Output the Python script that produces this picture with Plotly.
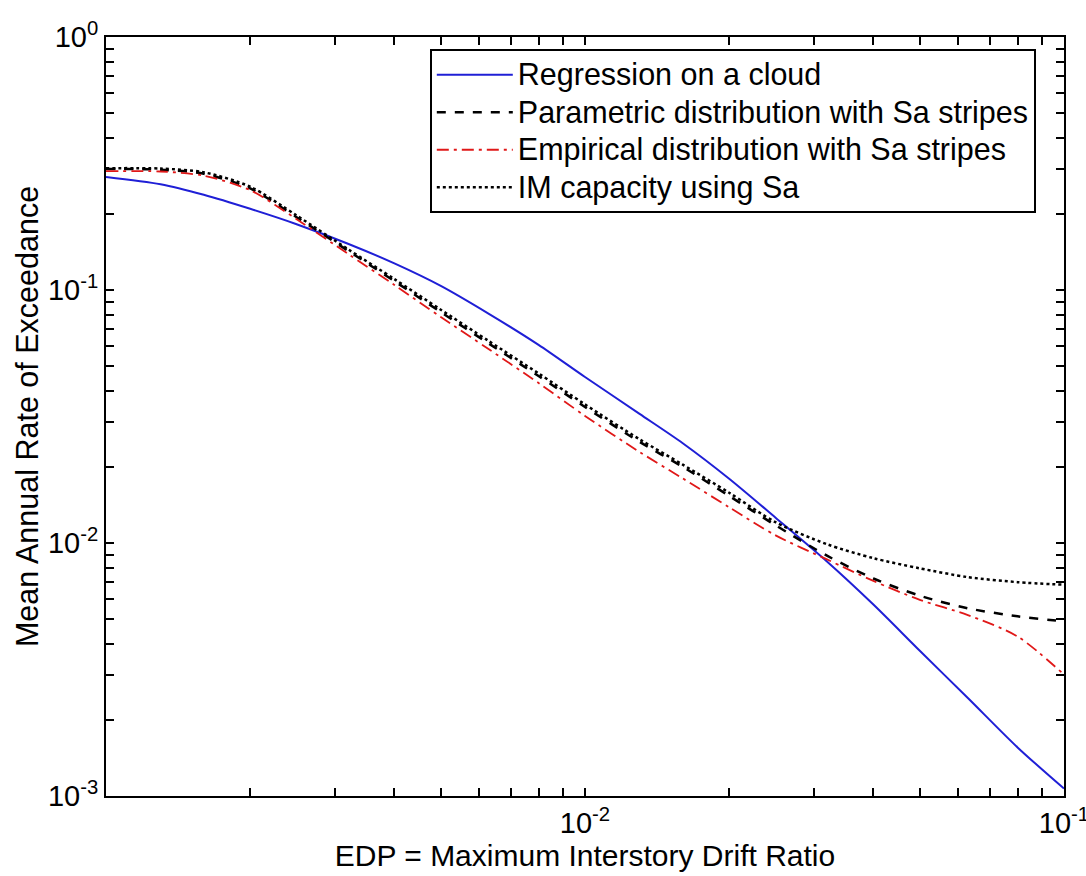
import plotly.graph_objects as go

# EDP values (maximum interstory drift ratio)
edp = [0.0010, 0.0013, 0.0016, 0.0020, 0.0025, 0.0032, 0.0040, 0.0050, 0.0063, 0.0080,
       0.010, 0.013, 0.016, 0.020, 0.025, 0.032, 0.040, 0.050, 0.063, 0.080, 0.100]

regression_cloud = [0.280, 0.262, 0.238, 0.2094, 0.182, 0.1524, 0.1274, 0.1038, 0.0805, 0.0607,
                    0.0453, 0.0324, 0.0248, 0.01795, 0.01259, 0.00845, 0.00571, 0.00375, 0.00244,
                    0.001556, 0.00107]

parametric_sa = [0.301, 0.299, 0.288, 0.252, 0.194, 0.143, 0.1084, 0.0818, 0.0614, 0.0457,
                 0.0345, 0.0251, 0.0200, 0.01535, 0.01175, 0.00891, 0.00724, 0.00619, 0.00552,
                 0.00513, 0.00490]

empirical_sa = [0.295, 0.294, 0.283, 0.248, 0.1905, 0.139, 0.1047, 0.0782, 0.0583, 0.0429,
                0.0318, 0.0229, 0.0180, 0.01384, 0.01072, 0.00861, 0.00708, 0.00596, 0.00519,
                0.00427, 0.00302]

im_capacity_sa = [0.303, 0.302, 0.292, 0.256, 0.197, 0.145, 0.1104, 0.0836, 0.0628, 0.0468,
                  0.0353, 0.0257, 0.0204, 0.0158, 0.01208, 0.00989, 0.00871, 0.00794, 0.00733,
                  0.00700, 0.00684]

names = ["Regression on a cloud", "Parametric distribution with Sa stripes",
         "Empirical distribution with Sa stripes", "IM capacity using Sa"]

x_major = [0.01, 0.1]
x_major_text = ["10<sup>-2</sup>", "10<sup>-1</sup>"]
y_major = [1, 0.1, 0.01, 0.001]
y_major_text = ["10<sup>0</sup>", "10<sup>-1</sup>", "10<sup>-2</sup>", "10<sup>-3</sup>"]

FONT = "Liberation Sans, Arial, Helvetica, sans-serif"

x_minor = [m * 10 ** e for e in (-3, -2) for m in range(2, 10)]
y_minor = [m * 10 ** e for e in (-3, -2, -1) for m in range(2, 10)]

x_tickvals = x_major + x_minor
x_ticktext = x_major_text + [""] * len(x_minor)
y_tickvals = y_major + y_minor
y_ticktext = y_major_text + [""] * len(y_minor)


def legend_label(s):
    return '<span style="font-size:30.5px">' + s + "</span>"


fig = go.Figure()
fig.add_trace(go.Scatter(x=edp, y=regression_cloud, mode="lines", name=legend_label(names[0]),
                         line=dict(color="#1f1fd6", width=2, shape="spline", smoothing=0.8)))
fig.add_trace(go.Scatter(x=edp, y=parametric_sa, mode="lines", name=legend_label(names[1]),
                         line=dict(color="black", width=2.5, dash="dash", shape="spline", smoothing=0.8)))
fig.add_trace(go.Scatter(x=edp, y=empirical_sa, mode="lines", name=legend_label(names[2]),
                         line=dict(color="#e01818", width=1.8, dash="12px,5px,3px,5px",
                                   shape="spline", smoothing=0.8)))
fig.add_trace(go.Scatter(x=edp, y=im_capacity_sa, mode="lines", name=legend_label(names[3]),
                         line=dict(color="black", width=2.5, dash="dot", shape="spline", smoothing=0.8)))

axis_common = dict(
    type="log", showgrid=False, zeroline=False, showline=True, linecolor="black",
    linewidth=2, mirror="ticks", ticks="inside", ticklen=8, tickwidth=1.5,
    tickcolor="black", tickfont=dict(family=FONT, size=29, color="black"),
    tickmode="array", ticklabeloverflow="allow", automargin=False,
)

fig.update_xaxes(
    **axis_common, range=[-3, -0.99995], tickvals=x_tickvals, ticktext=x_ticktext,
    title=dict(text="EDP = Maximum Interstory Drift Ratio",
               font=dict(family=FONT, size=30, color="black"), standoff=2),
)
fig.update_yaxes(
    **axis_common, range=[-3.00005, 0.00005], tickvals=y_tickvals, ticktext=y_ticktext,
    title=dict(text="Mean Annual Rate of Exceedance",
               font=dict(family=FONT, size=30.5, color="black"), standoff=0),
)

fig.update_layout(
    width=1086, height=876,
    margin=dict(l=106, r=22, t=37, b=80),
    paper_bgcolor="white", plot_bgcolor="white",
    font=dict(family=FONT, color="black"),
    legend=dict(x=0.338, y=0.984, xanchor="left", yanchor="top",
                bgcolor="white", bordercolor="black", borderwidth=2,
                font=dict(family=FONT, size=26.5, color="black"),
                tracegroupgap=0, itemwidth=76),
    showlegend=True,
)

fig.write_html("out.html")
